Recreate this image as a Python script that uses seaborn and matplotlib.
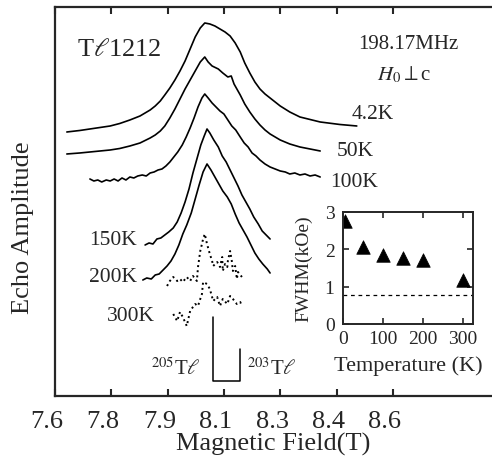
import numpy as np
import pandas as pd
import seaborn as sns
import matplotlib.pyplot as plt
import matplotlib.transforms as mtransforms

# field axis in tick units (tick i <-> label i), amplitude in arbitrary units
tick_labels = ["7.6", "7.8", "7.9", "8.1", "8.3", "8.4", "8.6"]

x_4K = [0.21, 0.44, 0.62, 0.80, 0.98, 1.15, 1.33, 1.51, 1.69, 1.78, 1.87, 1.95, 2.04,
        2.13, 2.22, 2.31, 2.40, 2.49, 2.58, 2.66, 2.75, 2.84, 2.93, 3.02, 3.11, 3.20,
        3.29, 3.37, 3.46, 3.55, 3.64, 3.73, 3.82, 4.00, 4.17, 4.35, 4.71, 5.06, 5.36]
y_4K = [264, 265.5, 267, 268.5, 270, 272.5, 276, 280, 286, 290, 295, 301, 308,
        316, 325, 335, 347, 359, 368, 373, 372, 370, 367, 364, 360, 353,
        344, 333, 323, 314, 307, 302, 298, 290, 284, 279, 274, 271.5, 270]

x_50K = [0.21, 0.44, 0.62, 0.80, 0.98, 1.15, 1.33, 1.51, 1.69, 1.78, 1.87, 1.95, 2.04,
         2.13, 2.22, 2.31, 2.40, 2.49, 2.58, 2.66, 2.72, 2.79, 2.90, 2.98, 3.07, 3.13,
         3.18, 3.29, 3.37, 3.46, 3.55, 3.64, 3.73, 3.82, 4.00, 4.17, 4.35, 4.53, 4.71]
y_50K = [242, 243, 244, 245, 246, 247.5, 250, 253, 258, 261, 265, 270, 278,
         287, 297, 307, 316, 325, 334, 339, 334, 330, 327, 323, 319, 320,
         312, 301, 292, 284, 277, 271, 266, 262, 256, 252, 249, 247, 245]

x_100K = [0.62, 0.69, 0.76, 0.83, 0.91, 0.98, 1.05, 1.12, 1.19, 1.26, 1.33, 1.40, 1.47,
          1.55, 1.62, 1.69, 1.76, 1.83, 1.90, 1.97, 2.04, 2.11, 2.18, 2.26, 2.33, 2.40,
          2.47, 2.54, 2.61, 2.66, 2.72, 2.79, 2.86, 2.93, 3.00, 3.07, 3.14, 3.21, 3.29,
          3.36, 3.43, 3.50, 3.57, 3.64, 3.73, 3.82, 3.91, 4.00, 4.09, 4.17, 4.26, 4.35,
          4.44, 4.53, 4.62, 4.71]
y_100K = [217, 215, 216, 214, 216, 215, 217, 215, 218, 216, 219, 218, 220,
          221, 220, 223, 224, 226, 227, 230, 234, 239, 244, 251, 259, 268,
          278, 289, 298, 302, 298, 293, 289, 285, 282, 276, 270, 266, 259,
          253, 249, 243, 240, 236, 232, 229, 227, 225, 224, 222, 223, 221,
          222, 220, 221, 219]

x_150K = [1.60, 1.67, 1.74, 1.81, 1.88, 1.95, 2.02, 2.10, 2.17, 2.24, 2.31, 2.38, 2.45,
          2.52, 2.59, 2.65, 2.70, 2.75, 2.82, 2.90, 2.97, 3.04, 3.11, 3.18, 3.25, 3.32,
          3.39, 3.46, 3.53, 3.61, 3.68, 3.75, 3.82]
y_150K = [151, 153, 152, 157, 158, 161, 164, 168, 174, 183, 194, 207, 223,
          237, 251, 260, 267, 263, 256, 249, 240, 234, 226, 218, 210, 201,
          194, 187, 179, 172, 165, 161, 157]

x_200K = [1.56, 1.63, 1.71, 1.78, 1.85, 1.92, 1.99, 2.06, 2.13, 2.20, 2.27, 2.34, 2.42,
          2.49, 2.56, 2.63, 2.70, 2.77, 2.84, 2.91, 2.98, 3.06, 3.13, 3.20, 3.27, 3.34,
          3.41, 3.48, 3.55, 3.62, 3.69, 3.77, 3.82]
y_200K = [116, 118, 117, 121, 122, 126, 130, 135, 142, 151, 162, 171, 183,
          197, 211, 224, 232, 226, 219, 212, 205, 199, 192, 182, 173, 166,
          159, 151, 143, 137, 132, 127, 123]

x_300Ka = [1.99, 2.04, 2.10, 2.17, 2.22, 2.27, 2.34, 2.40, 2.45, 2.52, 2.54, 2.58, 2.61,
           2.63, 2.66, 2.70, 2.75, 2.79, 2.81, 2.88, 2.93, 2.97, 2.98, 3.02, 3.06, 3.07,
           3.11, 3.14, 3.16, 3.20, 3.23, 3.25, 3.32]
y_300Ka = [110, 115, 119, 115, 117, 114, 119, 115, 120, 115, 129, 145, 152,
           157, 162, 152, 142, 135, 130, 134, 129, 139, 125, 132, 129, 135,
           145, 135, 125, 130, 117, 124, 119]

x_300Kb = [2.10, 2.17, 2.22, 2.27, 2.34, 2.40, 2.45, 2.49, 2.54, 2.58, 2.61, 2.63,
           2.70, 2.75, 2.81, 2.88, 2.93, 2.98, 3.06, 3.11, 3.16, 3.23, 3.29, 3.32]
y_300Kb = [82, 75, 84, 79, 70, 85, 89, 92, 90, 97, 102, 114,
           112, 107, 95, 99, 90, 97, 92, 100, 97, 92, 94, 90]

# isotope bracket (205Tl / 203Tl line positions)
iso_x = [2.81, 2.81, 3.29, 3.29]
iso_y = [79, 15, 15, 47]

# inset: FWHM vs temperature
temps = [4.2, 50, 100, 150, 200, 300]
fwhm = [2.76, 2.05, 1.86, 1.77, 1.71, 1.18]
fwhm_ref = 0.78

sns.set_style("ticks")
plt.rcParams["font.family"] = ["Liberation Serif", "DejaVu Serif"]
plt.rcParams["mathtext.fontset"] = "stix"

fig = plt.figure(figsize=(4.92, 4.64), dpi=100)
ax = fig.add_axes([0.1118, 0.1444, 0.888, 0.8384])

curves = [(x_4K, y_4K, "-"), (x_50K, y_50K, "-"), (x_100K, y_100K, "-"),
          (x_150K, y_150K, "-"), (x_200K, y_200K, "-"),
          (x_300Ka, y_300Ka, ":"), (x_300Kb, y_300Kb, ":")]
for xs, ys, ls in curves:
    d = pd.DataFrame({"x": xs, "y": ys})
    sns.lineplot(data=d, x="x", y="y", ax=ax, color="black", sort=False,
                 estimator=None, linestyle=ls, linewidth=1.2 if ls == "-" else 1.4)

ax.plot(iso_x, iso_y, color="black", lw=1.1)

ax.set_xlim(0, 7.76)
ax.set_ylim(0, 389)
ax.set_xticks(range(len(tick_labels)))
ax.set_xticklabels(tick_labels, fontsize=19)
ax.set_yticks([])
ax.tick_params(axis="x", direction="in", top=True, length=5, width=1.5, pad=10)
for s in ["left", "bottom", "top"]:
    ax.spines[s].set_linewidth(1.6)
ax.spines["right"].set_visible(False)
shift = mtransforms.ScaledTranslation(-8 / 100, 0, fig.dpi_scale_trans)
for lab in ax.get_xticklabels():
    lab.set_transform(lab.get_transform() + shift)

ax.set_xlabel("Magnetic Field(T)", fontsize=19, labelpad=0)
ax.set_ylabel("Echo Amplitude", fontsize=19)
ax.yaxis.set_label_coords(-0.048, 0.434)

ax.text(0.39, 347, "T$\\ell$1212", fontsize=19, va="center")
ax.text(6.27, 352, "198.17MHz", fontsize=15, ha="center", va="center")
ax.text(6.20, 322, "$H_0$$\\perp$c", fontsize=15, ha="center", va="center")
ax.text(5.26, 282, "4.2K", fontsize=15.5, va="center")
ax.text(5.01, 245, "50K", fontsize=15.5, va="center")
ax.text(4.88, 214, "100K", fontsize=15.5, va="center")
ax.text(1.46, 156, "150K", fontsize=15.5, ha="right", va="center")
ax.text(1.46, 119, "200K", fontsize=15.5, ha="right", va="center")
ax.text(1.78, 80, "300K", fontsize=15.5, ha="right", va="center")
ax.text(2.58, 28, "$^{205}$T$\\ell$", fontsize=15, ha="right", va="center")
ax.text(3.41, 28, "$^{203}$T$\\ell$", fontsize=15, ha="left", va="center")

# inset
ins = fig.add_axes([0.697, 0.2996, 0.264, 0.2414])
sns.scatterplot(x=temps, y=fwhm, ax=ins, marker="^", color="black", s=95,
                edgecolor="black", linewidth=0.5)
ins.axhline(fwhm_ref, color="black", ls="--", lw=0.9, dashes=(3, 3))
ins.set_xlim(0, 325)
ins.set_ylim(0, 3)
ins.set_xticks([0, 100, 200, 300])
ins.set_yticks([0, 1, 2, 3])
ins.tick_params(direction="in", top=True, right=True, length=4, width=1.2,
                labelsize=14, pad=4)
ins.tick_params(axis="y", pad=6)
for s in ins.spines.values():
    s.set_linewidth(1.4)
ins.set_xlabel("Temperature (K)", fontsize=16, labelpad=6)
ins.set_ylabel("FWHM(kOe)", fontsize=14, labelpad=9)

fig.savefig("out.png", dpi=100)
